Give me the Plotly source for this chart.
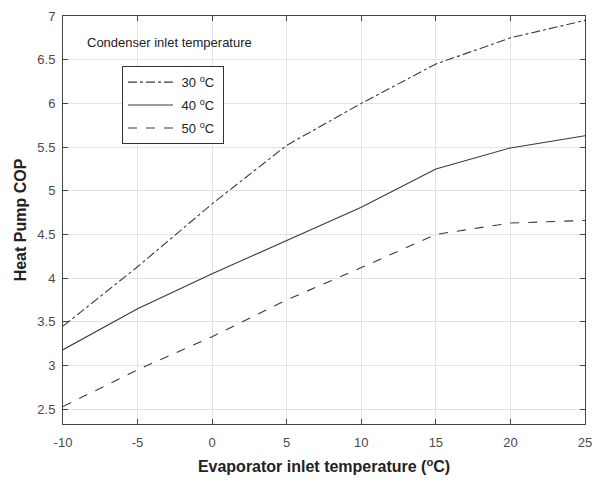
import plotly.graph_objects as go

evap_temp = [-10, -5, 0, 5, 10, 15, 20, 25]
cop_30 = [3.45, 4.13, 4.85, 5.52, 6.0, 6.45, 6.75, 6.95]
cop_40 = [3.18, 3.65, 4.05, 4.43, 4.81, 5.25, 5.49, 5.63]
cop_50 = [2.53, 2.95, 3.33, 3.75, 4.12, 4.50, 4.63, 4.66]
series_names = ["&nbsp;30 <sup>o</sup>C&nbsp;", "&nbsp;40 <sup>o</sup>C&nbsp;", "&nbsp;50 <sup>o</sup>C&nbsp;"]
x_ticks = [-10, -5, 0, 5, 10, 15, 20, 25]
x_ticklabels = ["-10", "-5", "0", "5", "10", "15", "20", "25"]
y_ticks = [2.5, 3, 3.5, 4, 4.5, 5, 5.5, 6, 6.5, 7]
y_ticklabels = ["2.5", "3", "3.5", "4", "4.5", "5", "5.5", "6", "6.5", "7"]

FONT = "Liberation Sans, Arial"
line_color = "#3a3a3a"
fig = go.Figure()
for i, (vals, name, dash) in enumerate(zip([cop_30, cop_40, cop_50], series_names,
                                           ["dashdot", "solid", "dash"])):
    fig.add_trace(go.Scatter(x=evap_temp, y=vals, mode="lines", name=name,
                             legendgroup="g%d" % i,
                             line=dict(color=line_color, width=1.1, dash=dash)))

axis_common = dict(showgrid=True, gridcolor="#e3e3e3", gridwidth=1,
                   showline=True, linecolor="#444", linewidth=1, mirror="ticks",
                   ticks="inside", ticklen=5, tickcolor="#444",
                   tickfont=dict(family=FONT, size=13, color="#4a4a4a"),
                   zeroline=False, automargin=False)

fig.update_xaxes(range=[-10, 25], tickvals=x_ticks, ticktext=x_ticklabels,
                 ticklabelstandoff=6,
                 title=dict(text="<b>Evaporator inlet temperature (<sup>o</sup>C)</b>",
                            font=dict(family=FONT, size=16, color="#222"),
                            standoff=12),
                 **axis_common)
fig.update_yaxes(range=[2.33, 7], tickvals=y_ticks, ticktext=y_ticklabels,
                 ticklabelstandoff=4,
                 title=dict(text="<b>Heat Pump COP</b>",
                            font=dict(family=FONT, size=16, color="#222"),
                            standoff=6),
                 **axis_common)

fig.update_layout(
    width=595, height=482,
    margin=dict(l=63, r=10, t=16, b=58),
    plot_bgcolor="white", paper_bgcolor="white",
    showlegend=True,
    legend=dict(x=0.113, y=0.877, xanchor="left", yanchor="top",
                bgcolor="white", bordercolor="#333", borderwidth=1,
                font=dict(family=FONT, size=13, color="#222"),
                tracegroupgap=3, itemwidth=45),
    annotations=[dict(text="Condenser inlet temperature", x=0.042, y=0.935,
                      xref="paper", yref="paper", xanchor="left", yanchor="middle",
                      showarrow=False,
                      font=dict(family=FONT, size=13, color="#222"))],
)

fig.write_html("out.html")
